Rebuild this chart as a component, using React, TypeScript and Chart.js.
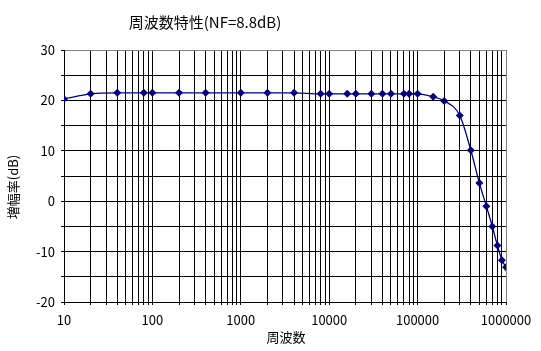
import React, { useEffect, useRef } from "react";
import { Chart, registerables } from "chart.js";

Chart.register(...registerables);

const TITLE = "周波数特性(NF=8.8dB)";
const X_TITLE = "周波数";
const Y_TITLE = "増幅率(dB)";

const FREQ = [
  10, 20, 40, 80, 100, 200, 400, 1000, 2000, 4000, 8000, 10000, 16000, 20000,
  30000, 40000, 50000, 70000, 80000, 100000, 150000, 200000, 300000, 400000,
  500000, 600000, 700000, 800000, 900000, 1000000,
];
const GAIN = [
  20.3, 21.3, 21.5, 21.5, 21.5, 21.5, 21.5, 21.5, 21.5, 21.5, 21.3, 21.3, 21.3,
  21.3, 21.3, 21.3, 21.3, 21.3, 21.3, 21.3, 20.7, 19.9, 17.0, 10.1, 3.6, -1.0,
  -5.0, -8.8, -11.7, -13.1,
];
const X_DECADES = [10, 100, 1000, 10000, 100000, 1000000];
const Y_MIN = -20;
const Y_MAX = 30;
const Y_STEP = 5;
const Y_LABEL_STEP = 10;

const FONT_FAMILY = "'Noto Sans CJK JP', 'Noto Sans', sans-serif";
const NAVY = "#000080";

export default function App() {
  const ref = useRef<HTMLCanvasElement | null>(null);

  useEffect(() => {
    if (!ref.current) return;
    const titlePlugin = {
      id: "customTitles",
      afterDraw(chart: any) {
        const ctx = chart.ctx;
        ctx.save();
        ctx.fillStyle = "#000";
        ctx.textAlign = "center";
        ctx.textBaseline = "middle";
        ctx.font = `15px ${FONT_FAMILY}`;
        ctx.fillText(TITLE, 205, 22);
        ctx.font = `13px ${FONT_FAMILY}`;
        ctx.fillText(X_TITLE, 286, 337);
        ctx.translate(13, 187);
        ctx.rotate(-Math.PI / 2);
        ctx.fillText(Y_TITLE, 0, 0);
        ctx.restore();
      },
    };

    const chart = new Chart(ref.current, {
      type: "scatter",
      data: {
        datasets: [
          {
            data: FREQ.map((f, i) => ({ x: f, y: GAIN[i] })),
            showLine: true,
            borderColor: NAVY,
            borderWidth: 1.3,
            backgroundColor: NAVY,
            pointBackgroundColor: NAVY,
            pointBorderColor: NAVY,
            pointStyle: "rectRot",
            pointRadius: 4,
            pointBorderWidth: 0,
            cubicInterpolationMode: "monotone",
          } as any,
        ],
      },
      options: {
        responsive: false,
        animation: false,
        layout: { padding: { top: 50, right: 35, left: 0, bottom: 0 } },
        plugins: {
          legend: { display: false },
          tooltip: { enabled: false },
          title: { display: false },
        },
        scales: {
          x: {
            type: "logarithmic",
            min: X_DECADES[0],
            max: X_DECADES[X_DECADES.length - 1],
            afterBuildTicks(scale: any) {
              const ticks: any[] = [];
              for (let d = 0; d < X_DECADES.length; d++) {
                const base = X_DECADES[d];
                if (d === X_DECADES.length - 1) {
                  ticks.push({ value: base });
                } else {
                  for (let m = 1; m <= 9; m++) ticks.push({ value: base * m });
                }
              }
              scale.ticks = ticks;
            },
            afterFit(scale: any) {
              scale.height = 49;
            },
            ticks: {
              autoSkip: false,
              maxRotation: 0,
              minRotation: 0,
              padding: 7,
              color: "#000",
              font: { family: FONT_FAMILY, size: 13 },
              callback: (v: any) =>
                X_DECADES.includes(Number(v)) ? String(v) : "",
            },
            grid: {
              color: (c: any) =>
                c.tick && c.tick.value === X_DECADES[X_DECADES.length - 1]
                  ? "#808080"
                  : "#000000",
              tickColor: "#000000",
              tickLength: 3,
              lineWidth: 1,
            },
            border: { color: "#000000", width: 1 },
          },
          y: {
            type: "linear",
            min: Y_MIN,
            max: Y_MAX,
            afterFit(scale: any) {
              scale.width = 64;
            },
            ticks: {
              stepSize: Y_STEP,
              padding: 6,
              color: "#000",
              font: { family: FONT_FAMILY, size: 13 },
              callback: (v: any) =>
                Number(v) % Y_LABEL_STEP === 0 ? String(v) : "",
            },
            grid: {
              color: (c: any) =>
                c.tick && c.tick.value === Y_MAX ? "#808080" : "#000000",
              tickColor: "#000000",
              tickLength: 3,
              lineWidth: 1,
            },
            border: { color: "#000000", width: 1 },
          },
        },
      },
      plugins: [titlePlugin],
    });
    return () => chart.destroy();
  }, []);

  return (
    <div style={{ position: "absolute", left: 0, top: 0, width: 541, height: 351, background: "#fff" }}>
      <canvas ref={ref} width={541} height={351} style={{ display: "block" }} />
    </div>
  );
}
